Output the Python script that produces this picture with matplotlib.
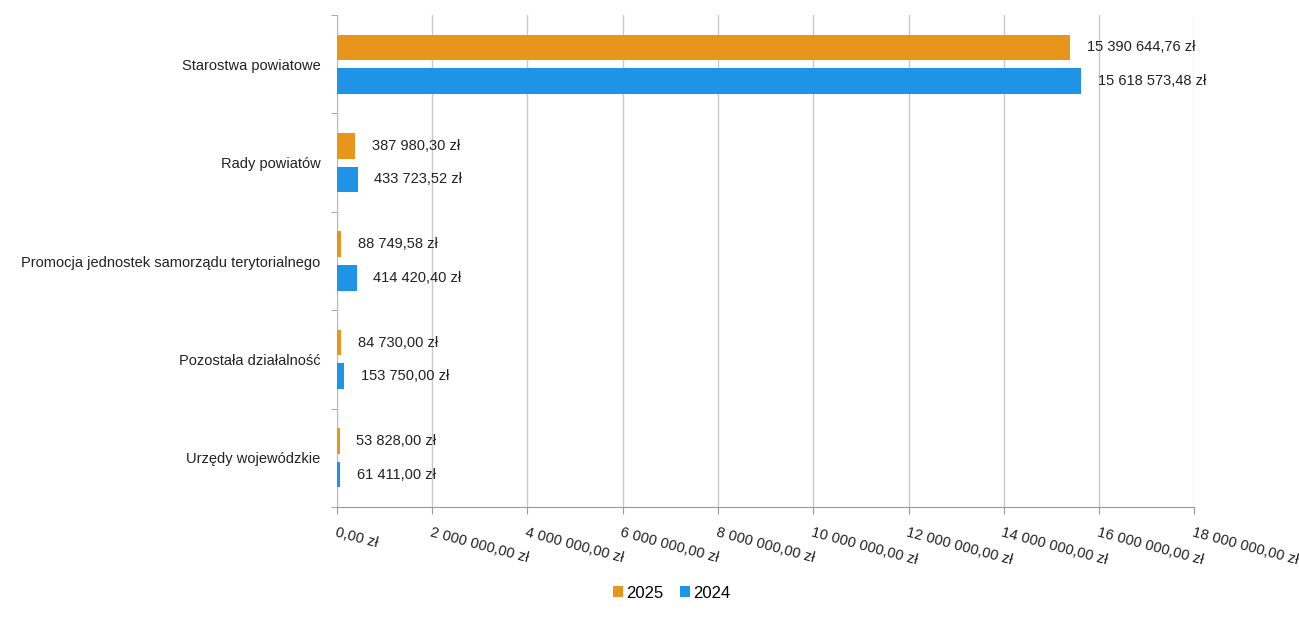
import numpy as np
import matplotlib.pyplot as plt
from matplotlib.ticker import FixedLocator

plt.rcParams['font.family'] = ['Liberation Sans', 'DejaVu Sans']

# Dane
kategorie = ['Starostwa powiatowe', 'Rady powiatów',
             'Promocja jednostek samorządu terytorialnego',
             'Pozostała działalność', 'Urzędy wojewódzkie']
wartosci_2025 = [15390644.76, 387980.30, 88749.58, 84730.00, 53828.00]
wartosci_2024 = [15618573.48, 433723.52, 414420.40, 153750.00, 61411.00]
serie = ['2025', '2024']
kolory = ['#E8951C', '#1F93E5']


def fmt_zl(v):
    s = f'{v:,.2f}'.replace(',', ' ').replace('.', ',')
    return s + ' zł'


fig = plt.figure(figsize=(12.99, 6.21), dpi=100)
ax = fig.add_axes([0.2594, 0.1836, 0.66, 0.7922])

y = np.arange(len(kategorie))
h = 0.26
b1 = ax.barh(y - 0.17, wartosci_2025, height=h, color=kolory[0], label=serie[0], zorder=3)
b2 = ax.barh(y + 0.17, wartosci_2024, height=h, color=kolory[1], label=serie[1], zorder=3)

for bars, vals in [(b1, wartosci_2025), (b2, wartosci_2024)]:
    for rect, v in zip(bars, vals):
        ax.annotate(fmt_zl(v), (rect.get_width(), rect.get_y() + rect.get_height() / 2),
                    xytext=(12, 0), textcoords='offset points',
                    ha='left', va='center', fontsize=10.5, color='#222222')

ax.set_xlim(0, 18000000)
ax.set_ylim(len(kategorie) - 0.5, -0.5)
ticks = np.arange(0, 18000001, 2000000)
ax.set_xticks(ticks)
ax.set_xticklabels([fmt_zl(t) for t in ticks], rotation=-15, ha='left', va='top',
                   rotation_mode='anchor', fontsize=10.5, color='#222222')
ax.tick_params(axis='x', length=5, color='#999999', pad=8)

ax.set_yticks(y)
ax.set_yticklabels(kategorie, fontsize=10.5, color='#222222')
ax.tick_params(axis='y', which='major', length=0, pad=12)
ax.yaxis.set_minor_locator(FixedLocator(np.arange(-0.5, len(kategorie), 1)))
ax.tick_params(axis='y', which='minor', length=4, color='#999999')

ax.grid(axis='x', color='#c8c8c8', linewidth=1, zorder=0)
for s in ['top', 'right']:
    ax.spines[s].set_visible(False)
ax.spines['left'].set_color('#bbbbbb')
ax.spines['bottom'].set_color('#999999')

fig.legend(handles=[b1, b2], labels=serie, loc='center', bbox_to_anchor=(0.517, 0.045),
           ncol=2, frameon=False, fontsize=12, handlelength=0.6, handleheight=0.6,
           handletextpad=0.2, columnspacing=1.0)

fig.savefig('out.png', dpi=100)
